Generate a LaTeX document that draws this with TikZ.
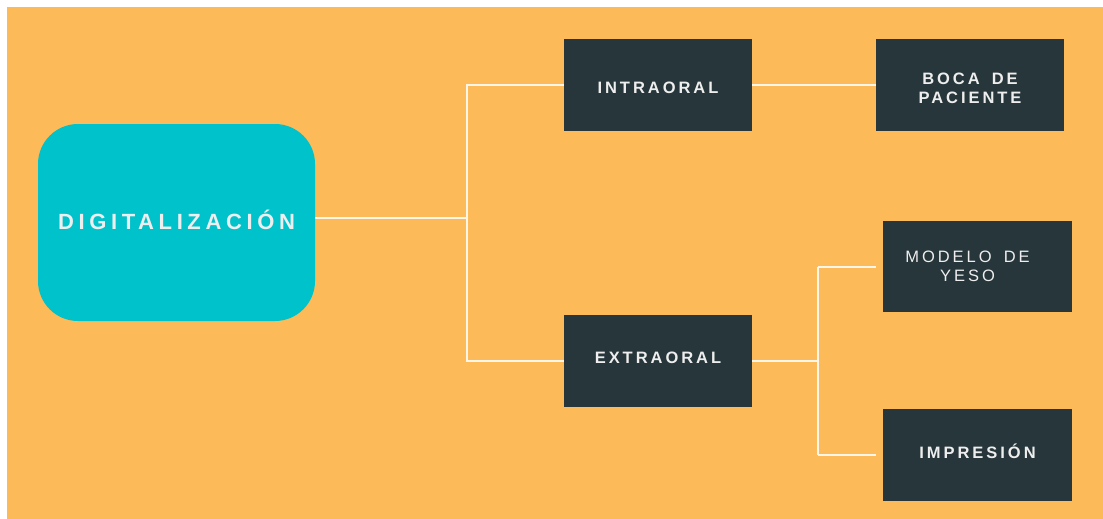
\documentclass[tikz,border=0pt]{standalone}
\usepackage{fontspec}
\usepackage{tikz}
\usetikzlibrary{calc}
\newfontfamily\mapfont[LetterSpace=18,WordSpace=1.6]{Liberation Sans}
\newfontfamily\rootfont[LetterSpace=21]{Liberation Sans}
\definecolor{paper}{HTML}{FCBA58}
\definecolor{rootfill}{HTML}{00C2CB}
\definecolor{leaffill}{HTML}{26363A}
\definecolor{inkwhite}{HTML}{EEEEEE}
\definecolor{wirecol}{HTML}{FFF6E8}
% move a label without changing the box it sits in
\newcommand{\nudge}[2]{\raisebox{#1}[\height][\depth]{#2}}

\begin{document}
\begin{tikzpicture}[x=1pt,y=-1pt,
    leaf/.style={fill=leaffill,minimum width=188pt,minimum height=92pt,inner sep=0pt,
      text=inkwhite,align=center,font=\mapfont\fontsize{16.5}{19}\selectfont\bfseries},
    wire/.style={draw=wirecol,line width=2pt}]
  \useasboundingbox (0,0) rectangle (1103,519);
  \fill[paper] (7,7) rectangle (1103,519);
  % root
  \node[fill=rootfill,rounded corners=40pt,minimum width=277pt,minimum height=197pt,
    text=inkwhite,font=\rootfont\fontsize{22}{26}\selectfont\bfseries] (digit) at (176.5,222.5) {\nudge{3pt}{DIGITALIZACIÓN}};
  % first level
  \node[leaf] (intra) at (658,85) {\nudge{-3pt}{INTRAORAL}};
  \node[leaf] (extra) at (658,361) {\nudge{3pt}{EXTRAORAL}};
  % second level
  \node[leaf] (boca) at (970,85) {\nudge{-3pt}{BOCA DE}\\\nudge{-3pt}{PACIENTE}};
  \node[leaf,minimum width=189pt,minimum height=91pt] (modelo) at (977.5,266.5) {};
  \node[text=inkwhite,align=center,font=\mapfont\fontsize{16.5}{19}\selectfont] (modelotxt)
    at ([xshift=-10pt]modelo.center) {MODELO DE\\YESO};
  \node[leaf,minimum width=189pt] (impre) at (977.5,455) {\nudge{4pt}{IMPRESIÓN}};
  % connectors
  \coordinate (trunk) at (467,0);
  \coordinate (branch) at (818,0);
  \draw[wire] ([yshift=5pt]digit.east) -- ([yshift=5pt]digit.east -| trunk);
  \draw[wire] (intra.west) -- (intra.west -| trunk) -- (extra.west -| trunk) -- (extra.west);
  \draw[wire] (intra.east) -- (boca.west);
  \draw[wire] (extra.east) -- (extra.east -| branch);
  \draw[wire,shorten >=7pt] (modelo.west -| branch) -- (modelo.west);
  \draw[wire] (modelo.west -| branch) -- (impre.west -| branch);
  \draw[wire,shorten >=7pt] (impre.west -| branch) -- (impre.west);
\end{tikzpicture}
\end{document}
